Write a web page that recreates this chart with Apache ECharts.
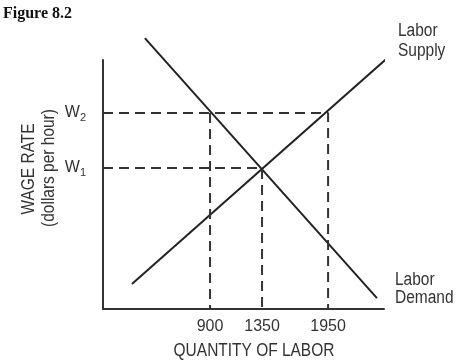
<!DOCTYPE html>
<html>
<head>
<meta charset="utf-8">
<script src="https://cdn.jsdelivr.net/npm/echarts@6/dist/echarts.min.js"></script>
<style>html,body{margin:0;padding:0;background:#fff;}#c{width:457px;height:362px;}</style>
</head>
<body>
<div id="c"></div>
<script>
// Quantity tick labels and their (schematic) positions along the x axis (0..100)
var qtyLabels = ['900', '1350', '1950'];
var qtyPos = [38.1, 56.6, 80.1];
// Wage levels and their positions on the y axis (0..100)
var wageLabels = ['W1', 'W2'];
var wagePos = [56.6, 78.7];
// Supply and demand curves (endpoints)
var supplyX = [10.3, 103.2];
var supplyY = [10.0, 102.8];
var demandX = [14.9, 97.5];
var demandY = [108.8, 4.4];

var chart = echarts.init(document.getElementById('c'));
var FONT = '"Liberation Sans", Arial, sans-serif';
var INK = '#333';
var SX = 0.86; // horizontal condensing of the label font

function nearestIdx(arr, v) {
  var b = 0;
  for (var i = 1; i < arr.length; i++) if (Math.abs(arr[i] - v) < Math.abs(arr[b] - v)) b = i;
  return b;
}

// dashed guide paths: W1 -> 1350, W2 -> 1950, W2 -> 900 (vertical only)
var guideW2 = [[0, wagePos[1]], [qtyPos[2], wagePos[1]], [qtyPos[2], 0]];
var guideW1 = [[0, wagePos[0]], [qtyPos[1], wagePos[0]], [qtyPos[1], 0]];
var guide900 = [[qtyPos[0], wagePos[1]], [qtyPos[0], 0]];

var dashStyle = {color: INK, width: 2, type: [10, 6]};
function lineSeries(data, style) {
  return {type: 'line', data: data, symbol: 'none', clip: false, silent: true,
    lineStyle: style, animation: false};
}
function txt(x, y, text, extra, rot) {
  var st = {text: text, font: '18px ' + FONT, fill: INK};
  for (var k in extra) st[k] = extra[k];
  return {type: 'text', x: x, y: y, scaleX: SX, rotation: rot || 0, style: st};
}

chart.setOption({
  animation: false,
  grid: {left: 103, right: 73, top: 60, bottom: 53},
  xAxis: {
    type: 'value', min: 0, max: 100,
    axisLine: {show: true, lineStyle: {color: INK, width: 2}},
    axisTick: {show: false}, splitLine: {show: false},
    axisLabel: {
      customValues: qtyPos, margin: 10, color: INK, fontFamily: FONT, fontSize: 16,
      formatter: function (v) { return qtyLabels[nearestIdx(qtyPos, v)]; }
    }
  },
  yAxis: {
    type: 'value', min: 0, max: 100,
    axisLine: {show: true, lineStyle: {color: INK, width: 2}},
    axisTick: {show: false}, splitLine: {show: false},
    axisLabel: {
      customValues: wagePos, margin: 17, color: INK, fontFamily: FONT,
      formatter: function (v) {
        var l = wageLabels[nearestIdx(wagePos, v)];
        return '{w|' + l.charAt(0) + '}{s|' + l.slice(1) + '}';
      },
      rich: {
        w: {fontSize: 16, fontFamily: FONT, color: INK},
        s: {fontSize: 11, fontFamily: FONT, color: INK, padding: [9, 0, 0, 0]}
      }
    }
  },
  series: [
    lineSeries(supplyX.map(function (x, i) { return [x, supplyY[i]]; }), {color: '#222', width: 2}),
    lineSeries(demandX.map(function (x, i) { return [x, demandY[i]]; }), {color: '#222', width: 2}),
    lineSeries(guideW2, dashStyle),
    lineSeries(guideW1, dashStyle),
    lineSeries(guide900, dashStyle)
  ],
  graphic: [
    {type: 'text', left: 3, top: 6, style: {text: 'Figure 8.2', font: 'bold 16px "Liberation Serif", "Times New Roman", serif', fill: '#111'}},
    txt(398, 21, 'Labor\nSupply', {lineHeight: 20}),
    txt(395, 271, 'Labor\nDemand', {lineHeight: 18}),
    txt(254, 351, 'QUANTITY OF LABOR', {textAlign: 'center', textVerticalAlign: 'middle'}),
    txt(29, 169, 'WAGE RATE', {textAlign: 'center', textVerticalAlign: 'middle'}, Math.PI / 2),
    txt(49, 168, '(dollars per hour)', {textAlign: 'center', textVerticalAlign: 'middle'}, Math.PI / 2)
  ]
});
</script>
</body>
</html>
